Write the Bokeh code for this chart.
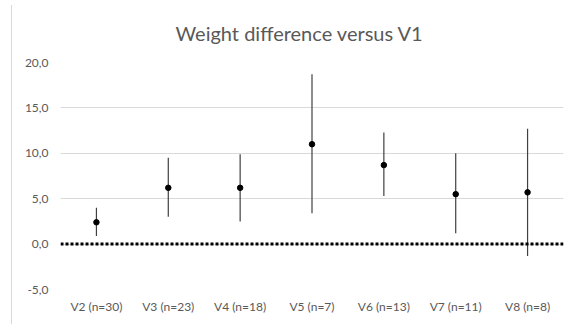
from bokeh.plotting import figure
from bokeh.models import (FactorRange, Range1d, FixedTicker, CustomJSTickFormatter,
                          Span, ColumnDataSource, InlineStyleSheet)
from bokeh.embed import file_html
from bokeh.resources import INLINE

categories = ["V2 (n=30)", "V3 (n=23)", "V4 (n=18)", "V5 (n=7)",
              "V6 (n=13)", "V7 (n=11)", "V8 (n=8)"]
mean_diff = [2.4, 6.2, 6.2, 11.0, 8.7, 5.5, 5.7]
lower = [0.9, 3.0, 2.5, 3.4, 5.3, 1.2, -1.3]
upper = [4.0, 9.5, 9.9, 18.7, 12.3, 10.0, 12.7]
y_ticks = [-5, 0, 5, 10, 15, 20]
title_text = "Weight difference versus V1"

src = ColumnDataSource(dict(cat=categories, mean=mean_diff, lo=lower, hi=upper))

FONT = "Lato"
GREY = "#595959"

p = figure(width=579, height=324, x_range=FactorRange(*categories),
           y_range=Range1d(-5, 20), output_backend="svg", toolbar_location=None,
           min_border_left=60, min_border_right=16, min_border_top=62,
           min_border_bottom=35, title=title_text)
p.outline_line_color = None
p.background_fill_color = "white"
p.border_fill_color = "white"

p.title.align = "left"
p.title.offset = 115
p.title.standoff = 35
p.title.text_font = FONT
p.title.text_font_size = "20px"
p.title.text_font_style = "normal"
p.title.text_color = GREY

p.xgrid.grid_line_color = None
p.ygrid.grid_line_color = "#d9d9d9"
p.ygrid.grid_line_width = 1

p.yaxis.ticker = FixedTicker(ticks=y_ticks)
p.yaxis.formatter = CustomJSTickFormatter(code="return tick.toFixed(1).replace('.', ',');")
for ax in (p.xaxis, p.yaxis):
    ax.axis_line_color = None
    ax.major_tick_line_color = None
    ax.minor_tick_line_color = None
    ax.major_tick_out = 0
    ax.major_tick_in = 0
    ax.major_label_text_font = FONT
    ax.major_label_text_font_size = "12px"
    ax.major_label_text_color = GREY
p.yaxis.major_label_standoff = 12
p.xaxis.major_label_standoff = 9

zero = Span(location=0, dimension="width", line_color="black", line_width=3,
            line_dash="3 2")
p.add_layout(zero)

p.segment(x0="cat", y0="lo", x1="cat", y1="hi", source=src,
          line_color="#404040", line_width=1.2)
p.scatter(x="cat", y="mean", source=src, size=5.5, color="black")

p.stylesheets = [InlineStyleSheet(css=(
    ":host::before { content: ''; position: absolute; left: 11px; top: 5px; "
    "width: 568px; height: 1px; background: #d9d9d9; pointer-events: none; } "
    ":host::after { content: ''; position: absolute; left: 11px; top: 5px; "
    "width: 1px; height: 319px; background: #d9d9d9; pointer-events: none; }"))]

open("out.html", "w").write(file_html(p, INLINE))
